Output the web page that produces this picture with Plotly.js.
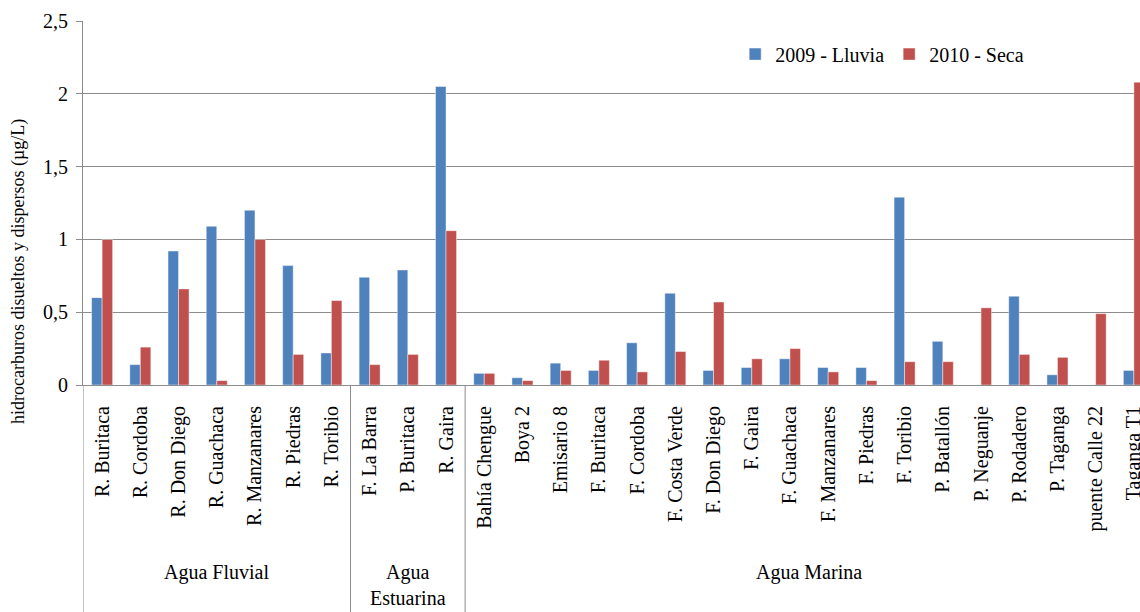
<!DOCTYPE html>
<html>
<head>
<meta charset="utf-8">
<script src="https://cdn.plot.ly/plotly-3.0.1.min.js"></script>
<style>html,body{margin:0;padding:0;background:#fff;}#chart{width:1140px;height:612px;}</style>
</head>
<body>
<div id="chart"></div>
<script>
const groups = [
  "Agua Fluvial","Agua Fluvial","Agua Fluvial","Agua Fluvial","Agua Fluvial","Agua Fluvial","Agua Fluvial",
  "Agua<br>Estuarina","Agua<br>Estuarina","Agua<br>Estuarina",
  "Agua Marina","Agua Marina","Agua Marina","Agua Marina","Agua Marina","Agua Marina","Agua Marina","Agua Marina","Agua Marina",
  "Agua Marina","Agua Marina","Agua Marina","Agua Marina","Agua Marina","Agua Marina","Agua Marina","Agua Marina","Agua Marina"
];
const stations = [
  "R. Buritaca","R. Cordoba","R. Don Diego","R. Guachaca","R. Manzanares","R. Piedras","R. Toribio",
  "F. La Barra","P. Buritaca","R. Gaira",
  "Bahía Chengue","Boya 2","Emisario 8","F. Buritaca","F. Cordoba","F. Costa Verde","F. Don Diego","F. Gaira","F. Guachaca",
  "F. Manzanares","F. Piedras","F. Toribio","P. Batallón","P. Neguanje","P. Rodadero","P. Taganga","puente Calle 22","Taganga T1"
];
const lluvia2009 = [
  0.60,0.14,0.92,1.09,1.20,0.82,0.22,
  0.74,0.79,2.05,
  0.08,0.05,0.15,0.10,0.29,0.63,0.10,0.12,0.18,
  0.12,0.12,1.29,0.30,null,0.61,0.07,null,0.10
];
const seca2010 = [
  1.00,0.26,0.66,0.03,1.00,0.21,0.58,
  0.14,0.21,1.06,
  0.08,0.03,0.10,0.17,0.09,0.23,0.57,0.18,0.25,
  0.09,0.03,0.16,0.16,0.53,0.21,0.19,0.49,2.08
];
const seriesNames = ["2009 - Lluvia","2010 - Seca"];
const yTitle = "hidrocarburos disueltos y dispersos (µg/L)";

const FAM = "Liberation Serif";
const font = {family: FAM, size: 20, color: "#000"};
const gridCol = "#8c8c8c";

// group spans (start/end index) derived from the groups list
const spans = [];
groups.forEach((g, i) => {
  if (i === 0 || g !== groups[i - 1]) spans.push({name: g, start: i, end: i});
  else spans[spans.length - 1].end = i;
});

const annotations = spans.map(s => ({
  text: s.name, xref: "x", yref: "paper",
  x: (s.start + s.end) / 2,
  y: -0.478,
  xanchor: "center", yanchor: "top", showarrow: false,
  font: font
}));
annotations.push({
  text: yTitle, xref: "paper", yref: "paper",
  x: -0.0615, y: 0.313, xanchor: "center", yanchor: "middle",
  textangle: -90, showarrow: false,
  font: {family: FAM, size: 18, color: "#000"}
});

const shapes = spans.map(s => ({
  type: "line", xref: "x", yref: "paper",
  x0: s.start - 0.5, x1: s.start - 0.5, y0: 0, y1: -0.63,
  line: {color: gridCol, width: 1}
}));

const traces = [
  {type: "bar", name: seriesNames[0], x: stations, y: lluvia2009,
   marker: {color: "#4F81BD", line: {color: "rgba(255,255,255,0.55)", width: 0.8}}},
  {type: "bar", name: seriesNames[1], x: stations, y: seca2010,
   marker: {color: "#C0504D", line: {color: "rgba(255,255,255,0.55)", width: 0.8}}}
];

const layout = {
  width: 1140, height: 612,
  margin: {l: 83, r: 0, t: 21, b: 227, pad: 0},
  paper_bgcolor: "#fff", plot_bgcolor: "#fff",
  font: font,
  separators: ",.",
  barmode: "group", bargap: 0.45, bargroupgap: 0,
  showlegend: true,
  legend: {orientation: "h", x: 0.617, xanchor: "left", y: 0.909, yanchor: "middle",
           font: font, bgcolor: "rgba(0,0,0,0)", borderwidth: 0},
  xaxis: {
    type: "category", range: [-0.5, 27.16],
    tickangle: -90, tickfont: font,
    showline: true, linecolor: gridCol, linewidth: 1,
    showgrid: false, ticks: "",
    ticklabelstandoff: 12
  },
  yaxis: {
    range: [0, 2.5], dtick: 0.5, tick0: 0,
    showgrid: true, gridcolor: gridCol, gridwidth: 1,
    showline: true, linecolor: gridCol, linewidth: 1,
    zeroline: true, zerolinecolor: gridCol, zerolinewidth: 1,
    ticks: "outside", ticklen: 6, tickcolor: gridCol,
    tickfont: font, ticklabelstandoff: 4
  },
  annotations: annotations,
  shapes: shapes
};

Plotly.newPlot("chart", traces, layout, {displayModeBar: false, staticPlot: true});
</script>
</body>
</html>
